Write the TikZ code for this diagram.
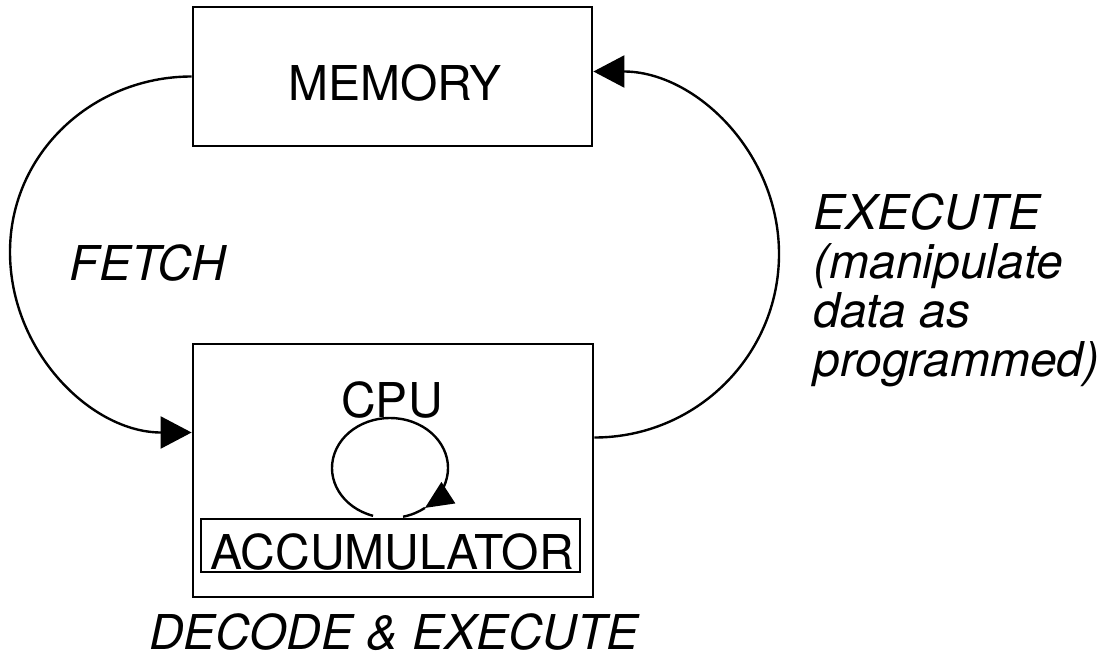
\documentclass[tikz,border=0pt]{standalone}
\usepackage{fontspec}
\setmainfont{TeX Gyre Heros}
\usepackage{tikz}
\usetikzlibrary{calc}
\usetikzlibrary{arrows.meta}

\begin{document}
\begin{tikzpicture}[x=0.5pt,y=0.5pt,
  unit/.style={draw,line width=1.4pt,inner sep=0pt},
  word/.style={font=\fontsize{24}{24}\selectfont,inner sep=0pt},
  phase/.style={font=\fontsize{24}{24}\selectfont\itshape,inner sep=0pt},
  cycle/.style={line width=1.2pt,-{Triangle[length=15.5pt,width=16pt]}}]
\useasboundingbox (0,0) rectangle (1102,-658);
 \node[unit,minimum width=199.5pt,minimum height=69.5pt] (memory) at (392.5,-76.5) {};
 \node[word] (memlabel) at (395,-83) {MEMORY};
 \node[unit,minimum width=200pt,minimum height=126.5pt] (cpu) at (393,-470.5) {};
 \node[word] (cpulabel) at (392,-400) {CPU};
 \node[unit,line width=1pt,minimum width=189.5pt,minimum height=26.5pt] (acc) at (390.5,-545.5) {};
 \node[word] (acclabel) at (392,-552) {ACCUMULATOR};
 \node[phase] (fetch) at (148,-263) {FETCH};
 \node[phase,align=left,anchor=north west] (execute) at (813,-193) {EXECUTE\\[0.5pt](manipulate\\[0.5pt]data as\\[0.5pt]programmed)};
 \node[phase] (decode) at (394,-632) {DECODE \& EXECUTE};
 % the two big loops
 \coordinate (fetchturn) at (10,-252);
 \coordinate (executeturn) at (779,-254);
 \draw[cycle] (memory.west) to[out=180,in=90] (fetchturn) to[out=270,in=180] ([yshift=19pt]cpu.west);
 \draw[cycle] ([yshift=16.5pt]cpu.east) to[out=0,in=270] (executeturn) to[out=90,in=0] ([yshift=2.5pt]memory.east);
 % inner loop of the cpu
 \coordinate (loophub) at (390,-468);
 \draw[line width=1.2pt,-{Triangle[length=14pt,width=12.5pt]}] ($(loophub)+(-107:58 and 50)$) arc[start angle=-107,end angle=-413,x radius=58,y radius=50];
 \draw[line width=1.2pt] ($(loophub)+(-53:58 and 50)$) arc[start angle=-53,end angle=-77,x radius=58,y radius=50];
\end{tikzpicture}
\end{document}
